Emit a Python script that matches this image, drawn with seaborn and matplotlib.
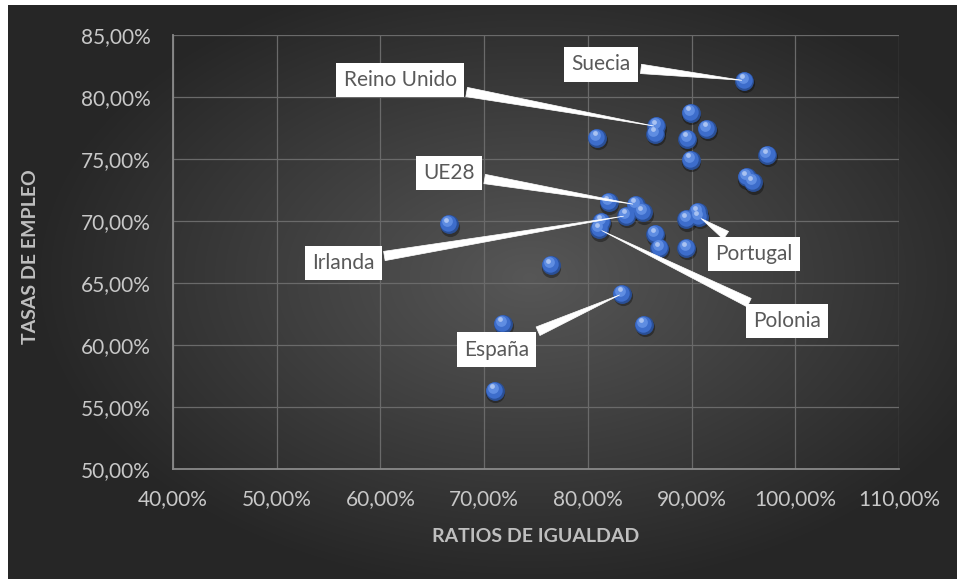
import numpy as np
import pandas as pd
import matplotlib
matplotlib.use("Agg")
import matplotlib.pyplot as plt
import matplotlib.transforms as mtransforms
from matplotlib.ticker import FuncFormatter
import seaborn as sns

# === DATA ===
ratios = [95.1, 89.9, 91.5, 86.6, 86.5, 80.9, 89.6, 89.9, 97.3, 95.3, 95.9,
          82.0, 84.6, 85.3, 83.7, 81.3, 81.1, 66.6, 89.5, 90.6, 90.7, 86.5,
          86.9, 89.5, 76.4, 83.3, 71.8, 85.4, 71.0]
empleo = [81.3, 78.7, 77.4, 77.6, 77.0, 76.7, 76.6, 74.9, 75.3, 73.5, 73.1,
          71.5, 71.3, 70.7, 70.4, 69.9, 69.3, 69.7, 70.1, 70.7, 70.3, 68.9,
          67.8, 67.8, 66.4, 64.1, 61.7, 61.6, 56.3]

label_names = ["Suecia", "Reino Unido", "UE28", "Irlanda", "Portugal", "Polonia", "España"]
label_idx = [0, 3, 12, 14, 20, 16, 25]
label_x = [81.3, 61.9, 66.6, 56.4, 96.0, 99.2, 71.2]
label_y = [82.6, 81.35, 73.85, 66.6, 67.3, 61.9, 59.6]

df = pd.DataFrame({"ratio": ratios, "empleo": empleo})

# === FIGURE ===
sns.set_style("dark")
plt.rcParams["font.family"] = ["Lato", "DejaVu Sans"]

fig = plt.figure(figsize=(9.57, 5.79), dpi=100)
fig.patch.set_facecolor("white")

# radial gradient background
bg = fig.add_axes([8 / 957, 0, 1 - 8 / 957, 1 - 5 / 579])
gx, gy = np.meshgrid(np.linspace(-1, 1, 400), np.linspace(-1, 1, 240))
r = np.sqrt(((gx - 0.1) / 1.05) ** 2 + ((gy + 0.05) / 1.1) ** 2)
shade = np.clip(0.34 - 0.19 * r, 0.15, 0.35)
bg.imshow(np.dstack([shade] * 3), aspect="auto", extent=[0, 1, 0, 1], interpolation="bilinear")
bg.set_axis_off()

ax = fig.add_axes([173 / 957, 1 - 468.7 / 579, 726 / 957, 434 / 579])
ax.set_facecolor("none")

# spheres: shadow, body, lighter face, highlight
def shifted(dx, dy):
    return ax.transData + mtransforms.ScaledTranslation(dx / 72, dy / 72, fig.dpi_scale_trans)

sns.scatterplot(data=df, x="ratio", y="empleo", ax=ax, s=190, color="black", alpha=0.35,
                linewidth=0, transform=shifted(0.6, -1.8), legend=False, zorder=2)
sns.scatterplot(data=df, x="ratio", y="empleo", ax=ax, s=185, color="#2a4f96",
                linewidth=0, legend=False, zorder=3)
sns.scatterplot(data=df, x="ratio", y="empleo", ax=ax, s=140, color="#3d6dcb",
                linewidth=0, transform=shifted(-0.5, 0.7), legend=False, zorder=3)
sns.scatterplot(data=df, x="ratio", y="empleo", ax=ax, s=60, color="#5f8de2",
                linewidth=0, transform=shifted(-1.3, 2.2), legend=False, zorder=3)
sns.scatterplot(data=df, x="ratio", y="empleo", ax=ax, s=12, color="#a9c2f1",
                linewidth=0, transform=shifted(-1.8, 3.2), legend=False, zorder=3)

# callouts
for name, i, lx, ly in zip(label_names, label_idx, label_x, label_y):
    ax.annotate(name, xy=(ratios[i], empleo[i]), xytext=(lx, ly),
                ha="center", va="center", fontsize=15, color="#595959",
                bbox=dict(boxstyle="square,pad=0.35", fc="white", ec="none"),
                arrowprops=dict(arrowstyle="wedge,tail_width=0.45,shrink_factor=0.5",
                                fc="white", ec="white", lw=0.5),
                zorder=5)

ax.set_xlim(40, 110)
ax.set_ylim(50, 85)
ax.set_xticks(np.arange(40, 111, 10))
ax.set_yticks(np.arange(50, 86, 5))
pct = FuncFormatter(lambda v, p: f"{v:.2f}%".replace(".", ","))
ax.xaxis.set_major_formatter(pct)
ax.yaxis.set_major_formatter(pct)
ax.grid(True, color="#6a6a6a", linewidth=0.9)
ax.set_axisbelow(True)
for side in ["top", "right"]:
    ax.spines[side].set_visible(False)
for side in ["left", "bottom"]:
    ax.spines[side].set_visible(True)
    ax.spines[side].set_color("#8a8a8a")
    ax.spines[side].set_linewidth(1.3)
ax.tick_params(axis="both", length=0, labelsize=15, labelcolor="#c8c8c8")
ax.tick_params(axis="y", pad=16)
ax.tick_params(axis="x", pad=15)

ax.set_xlabel("RATIOS DE IGUALDAD", fontsize=14, fontweight="bold", color="#bfbfbf")
ax.set_ylabel("TASAS DE EMPLEO", fontsize=14, fontweight="bold", color="#bfbfbf")
ax.xaxis.set_label_coords(0.499, -0.137)
ax.yaxis.set_label_coords(-0.184, 0.488)

fig.savefig("out.png", dpi=100)
